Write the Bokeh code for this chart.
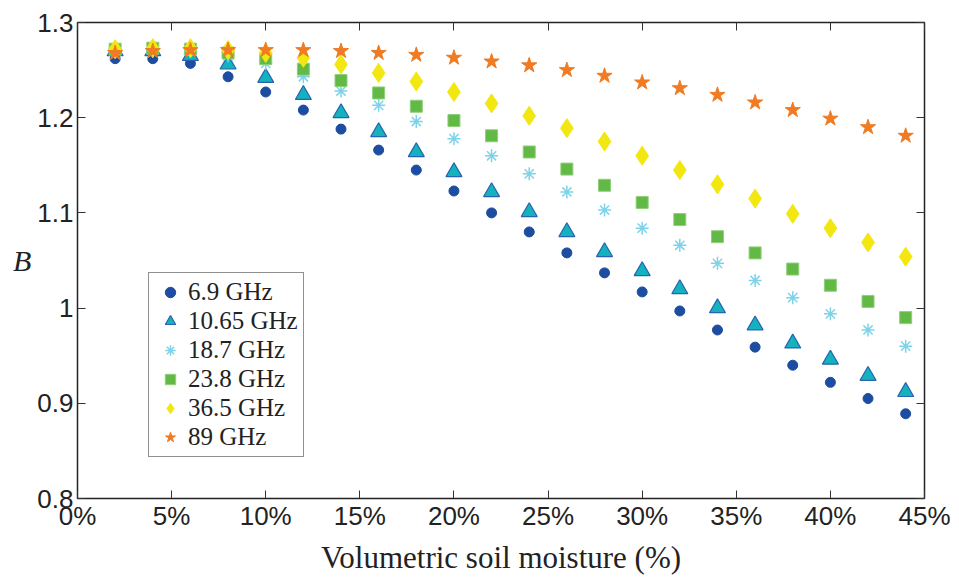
from bokeh.plotting import figure
from bokeh.models import FixedTicker, LinearAxis, Legend, LegendItem, Range1d, CustomLabelingPolicy
from bokeh.embed import file_html
from bokeh.resources import INLINE

moisture = [2, 4, 6, 8, 10, 12, 14, 16, 18, 20, 22, 24, 26, 28, 30, 32, 34, 36, 38, 40, 42, 44]

b_6_9 = [1.262, 1.262, 1.257, 1.243, 1.227, 1.208, 1.188, 1.166, 1.145, 1.123, 1.100,
         1.080, 1.058, 1.037, 1.017, 0.997, 0.977, 0.959, 0.940, 0.922, 0.905, 0.889]
b_10_65 = [1.270, 1.270, 1.265, 1.256, 1.242, 1.224, 1.205, 1.185, 1.164, 1.143, 1.122,
           1.101, 1.080, 1.059, 1.039, 1.020, 1.000, 0.982, 0.963, 0.946, 0.929, 0.912]
b_18_7 = [1.272, 1.272, 1.270, 1.265, 1.257, 1.243, 1.228, 1.213, 1.196, 1.178, 1.160,
          1.141, 1.122, 1.103, 1.084, 1.066, 1.047, 1.029, 1.011, 0.994, 0.977, 0.960]
b_23_8 = [1.272, 1.273, 1.272, 1.268, 1.262, 1.251, 1.239, 1.226, 1.212, 1.197, 1.181,
          1.164, 1.146, 1.129, 1.111, 1.093, 1.075, 1.058, 1.041, 1.024, 1.007, 0.990]
b_36_5 = [1.272, 1.273, 1.273, 1.271, 1.268, 1.263, 1.256, 1.247, 1.238, 1.227, 1.215,
          1.202, 1.189, 1.175, 1.160, 1.145, 1.130, 1.115, 1.099, 1.084, 1.069, 1.054]
b_89 = [1.268, 1.270, 1.271, 1.271, 1.271, 1.271, 1.270, 1.268, 1.266, 1.263, 1.259,
        1.255, 1.250, 1.244, 1.237, 1.231, 1.224, 1.216, 1.208, 1.199, 1.190, 1.181]

series_labels = ["6.9 GHz", "10.65 GHz", "18.7 GHz", "23.8 GHz", "36.5 GHz", "89 GHz"]

x_ticks = [0, 5, 10, 15, 20, 25, 30, 35, 40, 45]
x_tick_labels = ["0%", "5%", "10%", "15%", "20%", "25%", "30%", "35%", "40%", "45%"]
y_ticks = [0.8, 0.9, 1.0, 1.1, 1.2, 1.3]
y_tick_labels = ["0.8", "0.9", "1", "1.1", "1.2", "1.3"]

SANS = "'Liberation Sans', Arial, sans-serif"
SERIF = "'Liberation Serif', 'Times New Roman', serif"

p = figure(width=959, height=578, output_backend="svg", toolbar_location=None,
           x_range=Range1d(0, 45), y_range=Range1d(0.8, 1.3),
           min_border_left=77, min_border_right=35, min_border_top=22, min_border_bottom=80)
p.grid.visible = False
p.outline_line_color = "#222222"
p.outline_line_width = 1.5
p.background_fill_color = "white"
p.border_fill_color = "white"

def style_axis(ax, size="26px", standoff=4):
    ax.axis_line_color = None
    ax.major_tick_in = 8
    ax.major_tick_out = 0
    ax.minor_tick_line_color = None
    ax.major_tick_line_color = "#333333"
    ax.major_tick_line_width = 1
    ax.major_label_text_font = SANS
    ax.major_label_text_font_size = size
    ax.major_label_text_color = "#222222"
    ax.major_label_standoff = standoff

p.xaxis.ticker = FixedTicker(ticks=x_ticks)
p.xaxis.major_label_overrides = dict(zip(x_ticks, x_tick_labels))
p.yaxis.ticker = FixedTicker(ticks=y_ticks)
p.yaxis.major_label_overrides = dict(zip(y_ticks, y_tick_labels))
style_axis(p.xaxis[0], standoff=2)
style_axis(p.yaxis[0], standoff=4)

p.xaxis.axis_label = "Volumetric soil moisture (%)"
p.xaxis.axis_label_text_font = SERIF
p.xaxis.axis_label_text_font_style = "normal"
p.xaxis.axis_label_text_font_size = "31px"
p.xaxis.axis_label_text_color = "#222222"
p.xaxis.axis_label_standoff = 6

p.yaxis.axis_label = "B"
p.yaxis.axis_label_text_font = SERIF
p.yaxis.axis_label_text_font_style = "italic"
p.yaxis.axis_label_text_font_size = "30px"
p.yaxis.axis_label_text_color = "#222222"
p.yaxis.axis_label_standoff = 3
p.yaxis.axis_label_orientation = "horizontal"

hide_all = CustomLabelingPolicy(code="""
const all = [...indices]
for (const i of all) indices.unset(i)
return indices
""")

top_ax = LinearAxis(ticker=FixedTicker(ticks=x_ticks), major_label_policy=hide_all)
style_axis(top_ax, size="1px", standoff=0)
p.add_layout(top_ax, "above")
right_ax = LinearAxis(ticker=FixedTicker(ticks=y_ticks), major_label_policy=hide_all)
style_axis(right_ax, size="1px", standoff=0)
p.add_layout(right_ax, "right")

r1 = p.scatter(moisture, b_6_9, marker="circle", size=10, fill_color="#1c4da0", line_color="#1c4da0")
r2 = p.scatter(moisture, b_10_65, marker="triangle", size=16, fill_color="#13b2bf", line_color="#2a62b0", line_width=1.2)
r3 = p.scatter(moisture, b_18_7, marker="asterisk", size=13, line_color="#7dd3ea", line_width=1.5)
r4 = p.scatter(moisture, b_23_8, marker="square", size=12, fill_color="#62b946", line_color="#8fd07a", line_width=1)
r5 = p.scatter(moisture, b_36_5, marker="diamond", size=19, fill_color="#f2e710", line_color="#f2e710")
r6 = p.scatter(moisture, b_89, marker="star", size=16, fill_color="#f07b22", line_color="#f07b22")

renderers = [r1, r2, r3, r4, r5, r6]
legend = Legend(items=[LegendItem(label=l, renderers=[r]) for l, r in zip(series_labels, renderers)],
                location=(71, 41))
legend.label_text_font = SERIF
legend.label_text_font_size = "25px"
legend.label_text_color = "#222222"
legend.label_height = 26
legend.glyph_height = 26
legend.glyph_width = 32
legend.label_standoff = 2
legend.spacing = 1
legend.padding = 5
legend.margin = 0
legend.border_line_color = "#222222"
legend.border_line_width = 1.2
legend.background_fill_alpha = 1
p.add_layout(legend, "center")

open("out.html", "w").write(file_html(p, INLINE))
